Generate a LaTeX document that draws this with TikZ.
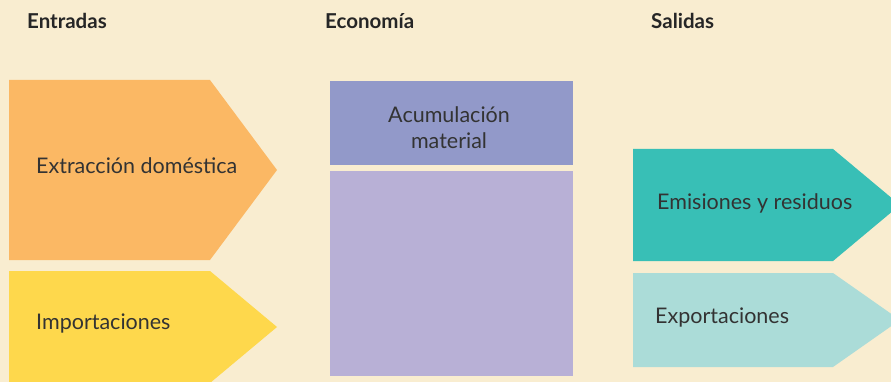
\documentclass[tikz,border=0pt]{standalone}
\usepackage{fontspec}
\setmainfont{Lato}
\definecolor{bg}{HTML}{F9EDD0}
\definecolor{corange}{HTML}{FBB864}
\definecolor{cyellow}{HTML}{FED84C}
\definecolor{cpurpleA}{HTML}{9299C9}
\definecolor{cpurpleB}{HTML}{B8B0D6}
\definecolor{cteal}{HTML}{38BFB6}
\definecolor{cltteal}{HTML}{ABDCD8}
\definecolor{ctext}{HTML}{333333}
\begin{document}
\begin{tikzpicture}[x=1pt,y=-1pt,
  lbl/.style={text=ctext,font=\fontsize{21.5}{24}\selectfont,inner sep=0pt},
  hdr/.style={text=black!85,font=\fontsize{20.5}{24}\selectfont\bfseries,inner sep=0pt,anchor=west}]
\useasboundingbox (0,0) rectangle (891,382);
\fill[bg] (0,0) rectangle (891,382);
\clip (0,0) rectangle (891,382);
% shapes
\fill[corange] (9,80) -- (210,80) -- (277,170) -- (210,260) -- (9,260) -- cycle;
\fill[cyellow] (9,271) -- (210,271) -- (277,327) -- (210,383) -- (9,383) -- cycle;
\fill[cpurpleA] (330,81) rectangle (573,165);
\fill[cpurpleB] (330,171) rectangle (573,376);
\fill[cteal] (633,149) -- (833,149) -- (900,205) -- (833,261) -- (633,261) -- cycle;
\fill[cltteal] (633,273) -- (833,273) -- (900,320) -- (833,367) -- (633,367) -- cycle;
% headers
\node[hdr] (h1) at (27,21) {Entradas};
\node[hdr] (h2) at (325,21) {Economía};
\node[hdr] (h3) at (651,21) {Salidas};
% labels
\node[lbl,anchor=west] (ext) at (36,166) {Extracción doméstica};
\node[lbl,anchor=west] (imp) at (36,323) {Importaciones};
\node[lbl,align=center] (acu) at (449,128) {Acumulación\\[2pt]material};
\node[lbl,anchor=west] (emi) at (657,203) {Emisiones y residuos};
\node[lbl,anchor=west] (exp) at (655,317) {Exportaciones};
\end{tikzpicture}
\end{document}
